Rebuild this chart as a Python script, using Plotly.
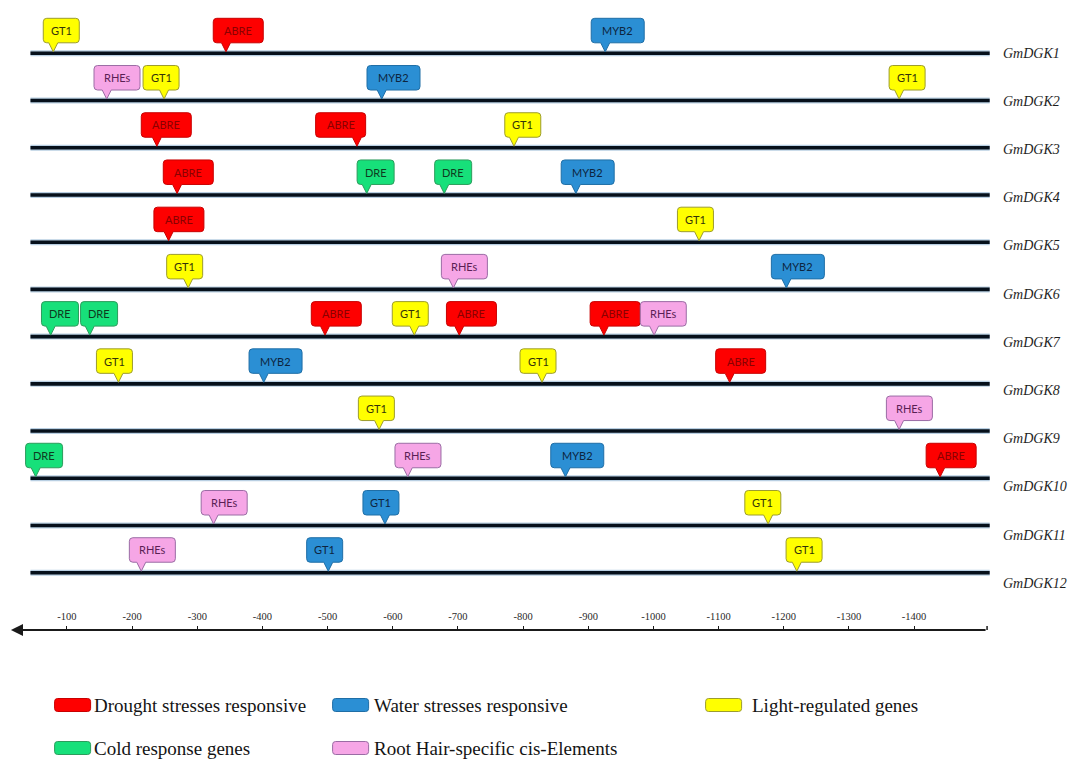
import plotly.graph_objects as go

# ---------------------------------------------------------------- data
genes = ["GmDGK1", "GmDGK2", "GmDGK3", "GmDGK4", "GmDGK5", "GmDGK6",
         "GmDGK7", "GmDGK8", "GmDGK9", "GmDGK10", "GmDGK11", "GmDGK12"]

# one entry per cis-element: promoter row, position (bp upstream), element, class
motif_gene = [1, 1, 1,
              2, 2, 2, 2,
              3, 3, 3,
              4, 4, 4, 4,
              5, 5,
              6, 6, 6,
              7, 7, 7, 7, 7, 7, 7,
              8, 8, 8, 8,
              9, 9,
              10, 10, 10, 10,
              11, 11, 11,
              12, 12, 12]
motif_pos = [-79, -344, -926,
             -161, -249, -583, -1377,
             -238, -545, -786,
             -269, -560, -679, -881,
             -256, -1070,
             -286, -693, -1204,
             -75, -135, -496, -633, -702, -924, -1001,
             -179, -402, -829, -1117,
             -579, -1377,
             -52, -623, -865, -1440,
             -325, -588, -1176,
             -214, -501, -1220]
motif_name = ["GT1", "ABRE", "MYB2",
              "RHEs", "GT1", "MYB2", "GT1",
              "ABRE", "ABRE", "GT1",
              "ABRE", "DRE", "DRE", "MYB2",
              "ABRE", "GT1",
              "GT1", "RHEs", "MYB2",
              "DRE", "DRE", "ABRE", "GT1", "ABRE", "ABRE", "RHEs",
              "GT1", "MYB2", "GT1", "ABRE",
              "GT1", "RHEs",
              "DRE", "RHEs", "MYB2", "ABRE",
              "RHEs", "GT1", "GT1",
              "RHEs", "GT1", "GT1"]
motif_class = ["light", "drought", "water",
               "root", "light", "water", "light",
               "drought", "drought", "light",
               "drought", "cold", "cold", "water",
               "drought", "light",
               "light", "root", "water",
               "cold", "cold", "drought", "light", "drought", "drought", "root",
               "light", "water", "light", "drought",
               "light", "root",
               "cold", "root", "water", "drought",
               "root", "water", "light",
               "root", "water", "light"]

tick_values = [-100, -200, -300, -400, -500, -600, -700,
               -800, -900, -1000, -1100, -1200, -1300, -1400]
tick_labels = [str(v) for v in tick_values]

class_order = ["drought", "water", "light", "cold", "root"]
class_labels = ["Drought stresses responsive", "Water stresses responsive",
                "Light-regulated genes", "Cold response genes",
                "Root Hair-specific cis-Elements"]

# ---------------------------------------------------------------- styling
FILL = {"drought": "#fe0000", "water": "#2b8fd4", "light": "#ffff00",
        "cold": "#17e07a", "root": "#f6a6e6"}
EDGE = {"drought": "#c80000", "water": "#1f6ea6", "light": "#9c9c2e",
        "cold": "#2c9c5c", "root": "#9a6ca4"}
INK = {"drought": "#8a0000", "water": "#0d2540", "light": "#33330a",
       "cold": "#0f3a1f", "root": "#5a1f55"}
BOX_W = {"GT1": 36, "ABRE": 50, "MYB2": 53, "RHEs": 46, "DRE": 37}

# distance (px) from the left edge of each callout box to its pointer
tail_px = [10, 12.7, 14,
           12.7, 21, 14.7, 10,
           15.6, 41.3, 9.2,
           13.8, 9.6, 9.6, 14.7,
           14.7, 21.6,
           21.5, 12, 15,
           9.2, 9.2, 13.7, 22, 12.8, 13.8, 13.8,
           22, 14.7, 22, 14,
           20.7, 12.7,
           10.1, 12.8, 14.7, 14,
           12.4, 22, 23.3,
           11.9, 21.6, 10.7]

W, H = 1071, 760
MB = 130                      # bottom margin: x axis sits on the plot edge
X_RANGE = [2.76, -1640.8]
Y_RANGE = [13.213, -0.1288]
AXIS_ROW = Y_RANGE[0]
LINE_START, LINE_END = -44, -1516
LABEL_X = -1534

BOX_B, BOX_T, RAD, TIP, HALF = 10.5, 35, 3.5, 1.5, 4.5
SW_W, SW_H = 36, 13


def callout_path(w, off):
    L = -off
    R = L + w
    b, t, r = BOX_B, BOX_T, RAD
    return (f"M{L + r},{t} L{R - r},{t} Q{R},{t} {R},{t - r} L{R},{b + r} "
            f"Q{R},{b} {R - r},{b} L{HALF},{b} L0,{TIP} L{-HALF},{b} "
            f"L{L + r},{b} Q{L},{b} {L},{b + r} L{L},{t - r} Q{L},{t} {L + r},{t} Z")


def rounded_rect(w, h, r=3):
    return (f"M{r},{h} L{w - r},{h} Q{w},{h} {w},{h - r} L{w},{r} Q{w},0 {w - r},0 "
            f"L{r},0 Q0,0 0,{r} L0,{h - r} Q0,{h} {r},{h} Z")


fig = go.Figure()

# promoter lines
rows = list(range(1, len(genes) + 1))
lx, ly = [], []
for r in rows:
    lx += [LINE_START, LINE_END, None]
    ly += [r, r, None]
fig.add_trace(go.Scatter(x=lx, y=ly, mode="lines", hoverinfo="skip",
                         line=dict(color="#b9cfe2", width=6), showlegend=False))
fig.add_trace(go.Scatter(x=lx, y=ly, mode="lines", hoverinfo="skip",
                         line=dict(color="#06101b", width=3.6), showlegend=False))

shapes = []
annotations = []

# cis-element callouts
for g, p, n, c, off in zip(motif_gene, motif_pos, motif_name, motif_class, tail_px):
    w = BOX_W[n]
    shapes.append(dict(type="path", xref="x", yref="y", xsizemode="pixel",
                       ysizemode="pixel", xanchor=p, yanchor=g,
                       path=callout_path(w, off), fillcolor=FILL[c],
                       line=dict(color=EDGE[c], width=1), layer="above"))
    annotations.append(dict(x=p, y=g, xref="x", yref="y", text=n, showarrow=False,
                            xshift=w / 2 - off, yshift=(BOX_B + BOX_T) / 2,
                            font=dict(family="Lato", size=11, color=INK[c])))

# gene names
for i, (r, name) in enumerate(zip(rows, genes)):
    annotations.append(dict(x=LABEL_X, y=r, xref="x", yref="y", text=f"<i>{name}</i>",
                            showarrow=False, xanchor="left", yshift=-0.95 * i,
                            font=dict(family="Liberation Serif", size=14, color="#1e1e1e")))

# position axis with arrow toward the start codon
annotations.append(dict(x=-14, y=AXIS_ROW, xref="x", yref="y", ax=-1512, ay=AXIS_ROW,
                        axref="x", ayref="y", text="", showarrow=True, arrowhead=2,
                        arrowsize=1.1, arrowwidth=2.2, arrowcolor="#1a1a1a", standoff=0))
shapes.append(dict(type="line", xref="x", yref="y", ysizemode="pixel", yanchor=AXIS_ROW,
                   x0=-1512, x1=-1512, y0=-3, y1=4, line=dict(color="#1a1a1a", width=1.5)))

# legend
plot_h = H - MB
legend_pos = [(54.6, 705), (332.6, 705), (705.6, 705), (54.6, 748), (332.6, 748)]
legend_text_dx = [37.6, 39.7, 44.4, 37.6, 39.7]
for c, lab, (px, py), dx in zip(class_order, class_labels, legend_pos, legend_text_dx):
    shapes.append(dict(type="path", xref="paper", yref="paper", xsizemode="pixel",
                       ysizemode="pixel", xanchor=px / W,
                       yanchor=(plot_h - py - SW_H / 2) / plot_h,
                       path=rounded_rect(SW_W, SW_H), fillcolor=FILL[c],
                       line=dict(color=EDGE[c], width=1)))
    annotations.append(dict(x=(px + dx) / W, y=(plot_h - py) / plot_h, xref="paper",
                            yref="paper", text=lab, showarrow=False, xanchor="left",
                            yanchor="middle",
                            font=dict(family="Liberation Serif", size=19, color="#141414")))

fig.update_layout(
    width=W, height=H,
    margin=dict(l=0, r=0, t=0, b=MB, pad=0),
    paper_bgcolor="white", plot_bgcolor="white",
    showlegend=False,
    shapes=shapes, annotations=annotations,
    xaxis=dict(range=X_RANGE, tickvals=tick_values, ticktext=tick_labels,
               ticks="inside", ticklen=4, tickwidth=1.3, tickcolor="#1a1a1a",
               ticklabelposition="inside", ticklabelstandoff=3,
               showline=False, showgrid=False, zeroline=False, fixedrange=True,
               tickfont=dict(family="Liberation Serif", size=10.5, color="#2a2a2a")),
    yaxis=dict(range=Y_RANGE, visible=False, fixedrange=True),
)

fig.write_html("out.html")
